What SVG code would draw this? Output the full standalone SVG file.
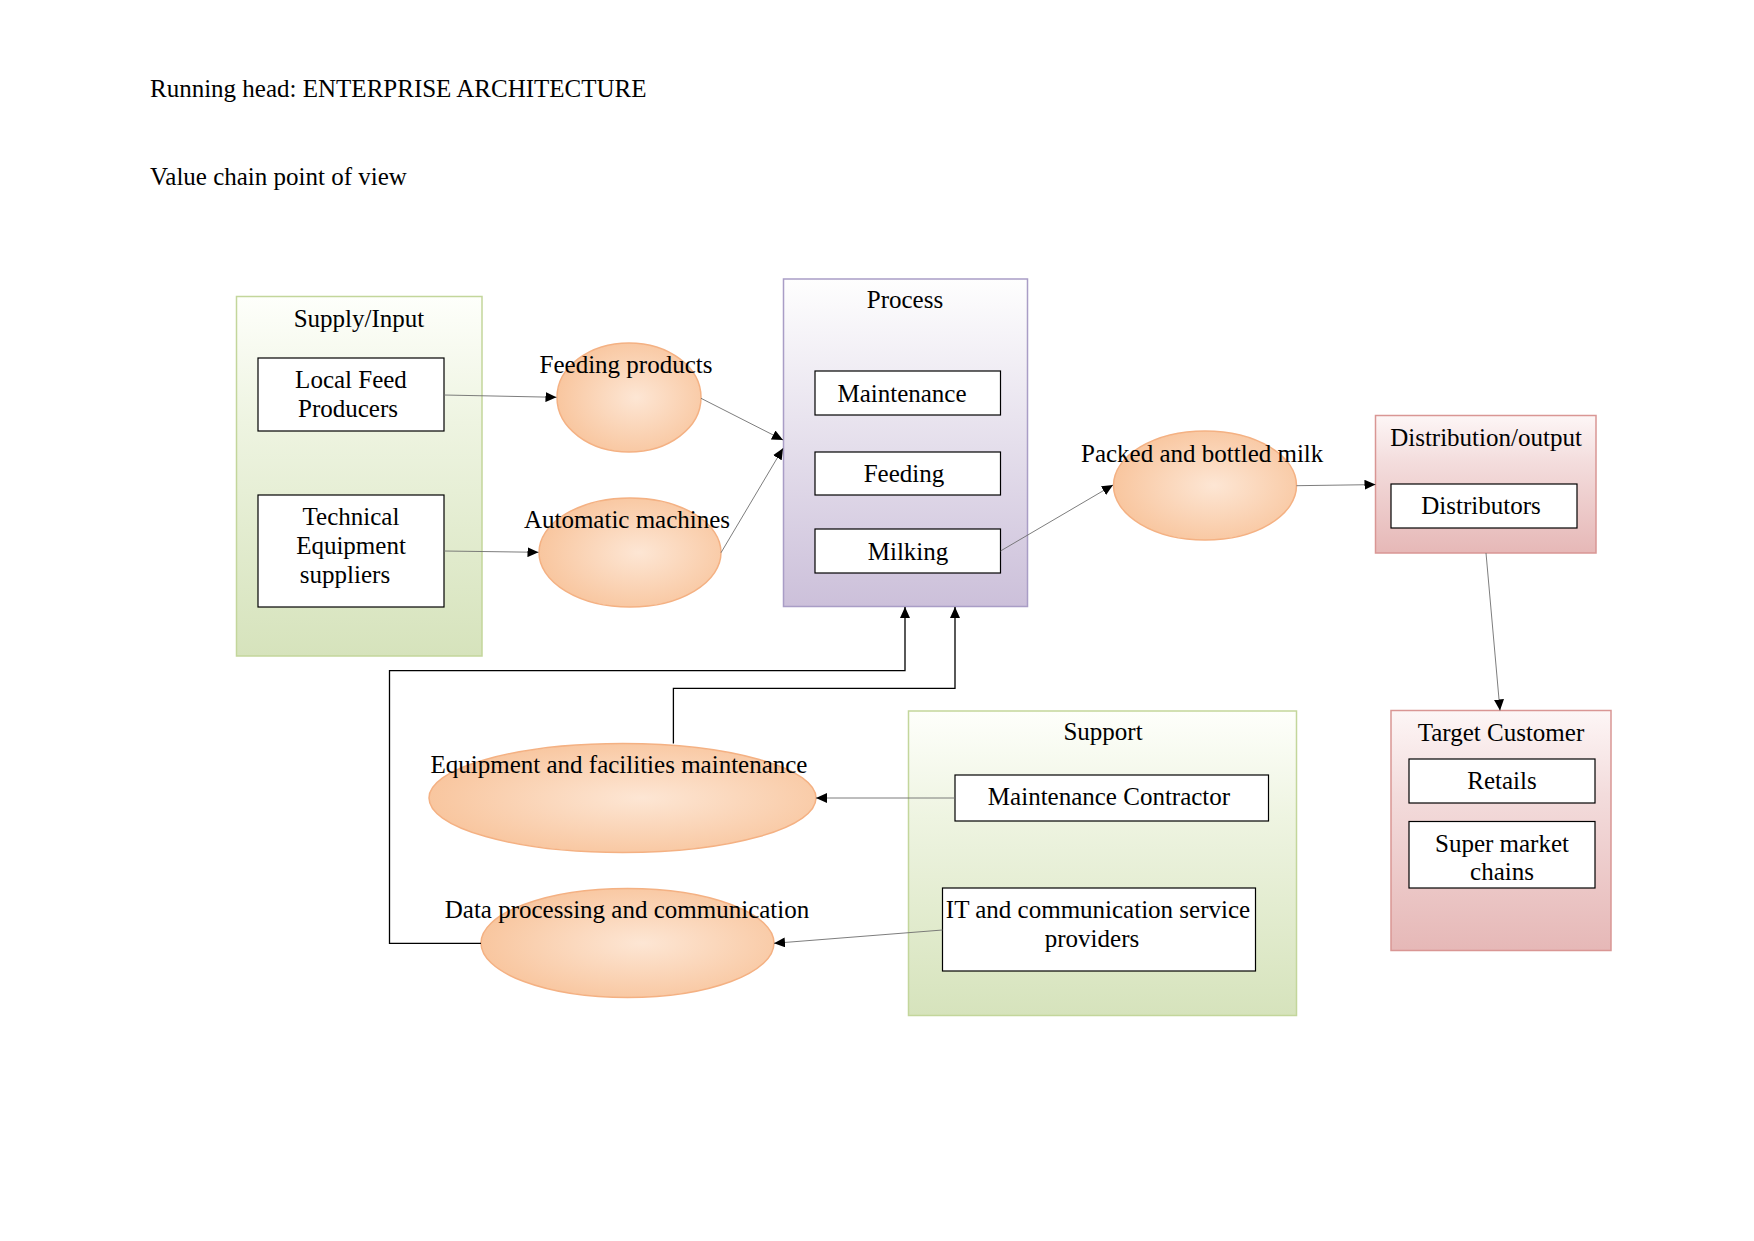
<svg xmlns="http://www.w3.org/2000/svg" width="1754" height="1241" viewBox="0 0 1754 1241">
<style>
text{font-family:"Liberation Serif","Times New Roman",serif;font-size:25px;fill:#000}
.c{text-anchor:middle}
.box{fill:#fff;stroke:#000;stroke-width:1.2}
.ell{fill:url(#gOr);stroke:#f4b183;stroke-width:1.5}
.thin{fill:none;stroke:#6e6e6e;stroke-width:0.9;marker-end:url(#ah)}
.elb{fill:none;stroke:#000;stroke-width:1.3;marker-end:url(#ah)}
</style>
<defs>
<linearGradient id="gGreen" x1="0" y1="0" x2="0" y2="1"><stop offset="0" stop-color="#fefffb"/><stop offset="0.35" stop-color="#eef4e1"/><stop offset="1" stop-color="#d6e3bc"/></linearGradient>
<linearGradient id="gPurple" x1="0" y1="0" x2="0" y2="1"><stop offset="0" stop-color="#fefefe"/><stop offset="1" stop-color="#ccc0da"/></linearGradient>
<linearGradient id="gPink" x1="0" y1="0" x2="0" y2="1"><stop offset="0" stop-color="#fdf6f6"/><stop offset="0.35" stop-color="#f3dcdc"/><stop offset="1" stop-color="#e6b8b7"/></linearGradient>
<radialGradient id="gOr" cx="0.55" cy="0.5" r="0.6"><stop offset="0" stop-color="#fde6d4"/><stop offset="1" stop-color="#f8c39a"/></radialGradient>
<marker id="ah" markerUnits="userSpaceOnUse" markerWidth="12" markerHeight="10" refX="11" refY="5" orient="auto"><path d="M0,0 L11,5 L0,10 z" fill="#000"/></marker>
</defs>

<text x="150" y="97">Running head: ENTERPRISE ARCHITECTURE</text>
<text x="150" y="185">Value chain point of view</text>

<g id="supply">
<rect x="236.5" y="296.5" width="245.5" height="359.5" fill="url(#gGreen)" stroke="#c3d69b" stroke-width="1.5"/>
<text class="c" x="359" y="327">Supply/Input</text>
</g>
<g id="local-feed">
<rect class="box" x="258" y="358" width="186" height="73"/>
<text class="c" x="351" y="388">Local Feed</text>
<text class="c" x="348" y="417">Producers</text>
</g>
<g id="tech-equip">
<rect class="box" x="258" y="495" width="186" height="112"/>
<text class="c" x="351" y="525">Technical</text>
<text class="c" x="351" y="554">Equipment</text>
<text class="c" x="345" y="583">suppliers</text>
</g>
<g id="feeding-products">
<ellipse class="ell" cx="629" cy="397.5" rx="72" ry="54.5"/>
<text class="c" x="626" y="373">Feeding products</text>
</g>
<g id="automatic-machines">
<ellipse class="ell" cx="630" cy="552.5" rx="91" ry="54.5"/>
<text class="c" x="627" y="528">Automatic machines</text>
</g>

<g id="process">
<rect x="783.5" y="279" width="244" height="327.5" fill="url(#gPurple)" stroke="#a99dc6" stroke-width="1.5"/>
<text class="c" x="905" y="308">Process</text>
</g>
<g id="maintenance">
<rect class="box" x="815" y="371" width="185.5" height="44"/>
<text class="c" x="902" y="402">Maintenance</text>
</g>
<g id="feeding">
<rect class="box" x="815" y="452" width="185.5" height="43"/>
<text class="c" x="904" y="482">Feeding</text>
</g>
<g id="milking">
<rect class="box" x="815" y="529" width="185.5" height="44"/>
<text class="c" x="908" y="560">Milking</text>
</g>

<g id="packed-milk">
<ellipse class="ell" cx="1205" cy="485.5" rx="91.5" ry="54.5"/>
<text x="1081" y="462">Packed and bottled milk</text>
</g>

<g id="distribution">
<rect x="1375.5" y="415.5" width="220.5" height="137.5" fill="url(#gPink)" stroke="#d99694" stroke-width="1.5"/>
<text class="c" x="1486" y="446">Distribution/output</text>
</g>
<g id="distributors">
<rect class="box" x="1391" y="484" width="186" height="44"/>
<text class="c" x="1481" y="514">Distributors</text>
</g>

<g id="target-customer">
<rect x="1391" y="710.5" width="220" height="240" fill="url(#gPink)" stroke="#d99694" stroke-width="1.5"/>
<text class="c" x="1501" y="741">Target Customer</text>
</g>
<g id="retails">
<rect class="box" x="1409" y="759" width="186" height="44"/>
<text class="c" x="1502" y="789">Retails</text>
</g>
<g id="supermarket">
<rect class="box" x="1409" y="821.5" width="186" height="66.5"/>
<text class="c" x="1502" y="852">Super market</text>
<text class="c" x="1502" y="880">chains</text>
</g>

<g id="support">
<rect x="908.5" y="711" width="388" height="304.5" fill="url(#gGreen)" stroke="#c3d69b" stroke-width="1.5"/>
<text class="c" x="1103" y="740">Support</text>
</g>
<g id="maintenance-contractor">
<rect class="box" x="955" y="775" width="313.5" height="46"/>
<text class="c" x="1109" y="805">Maintenance Contractor</text>
</g>
<g id="it-providers">
<rect class="box" x="942.5" y="888" width="313" height="83"/>
<text class="c" x="1098" y="918">IT and communication service</text>
<text class="c" x="1092" y="947">providers</text>
</g>

<g id="equipment-maintenance">
<ellipse class="ell" cx="622.5" cy="798" rx="193.5" ry="54.5"/>
<text class="c" x="619" y="773">Equipment and facilities maintenance</text>
</g>
<g id="data-processing">
<ellipse class="ell" cx="627.5" cy="943" rx="146.5" ry="54.5"/>
<text class="c" x="627" y="918">Data processing and communication</text>
</g>

<g id="connectors">
<line class="thin" x1="444" y1="395" x2="556.5" y2="397.3"/>
<line class="thin" x1="444" y1="551" x2="538.5" y2="552.3"/>
<line class="thin" x1="701" y1="398.3" x2="783" y2="440"/>
<line class="thin" x1="721" y1="552.7" x2="783" y2="448.3"/>
<line class="thin" x1="1000.5" y1="551" x2="1113" y2="485"/>
<line class="thin" x1="1296.5" y1="485.7" x2="1375.5" y2="484.6"/>
<line class="thin" x1="1486" y1="553" x2="1500" y2="710.5"/>
<line class="thin" x1="955" y1="798" x2="816" y2="798"/>
<line class="thin" x1="942.5" y1="930" x2="774" y2="943.3"/>
<polyline class="elb" points="481,943.3 389.5,943.3 389.5,670.7 905,670.7 905,607"/>
<polyline class="elb" points="673.4,743.5 673.4,688.3 955,688.3 955,607"/>
</g>
</svg>
